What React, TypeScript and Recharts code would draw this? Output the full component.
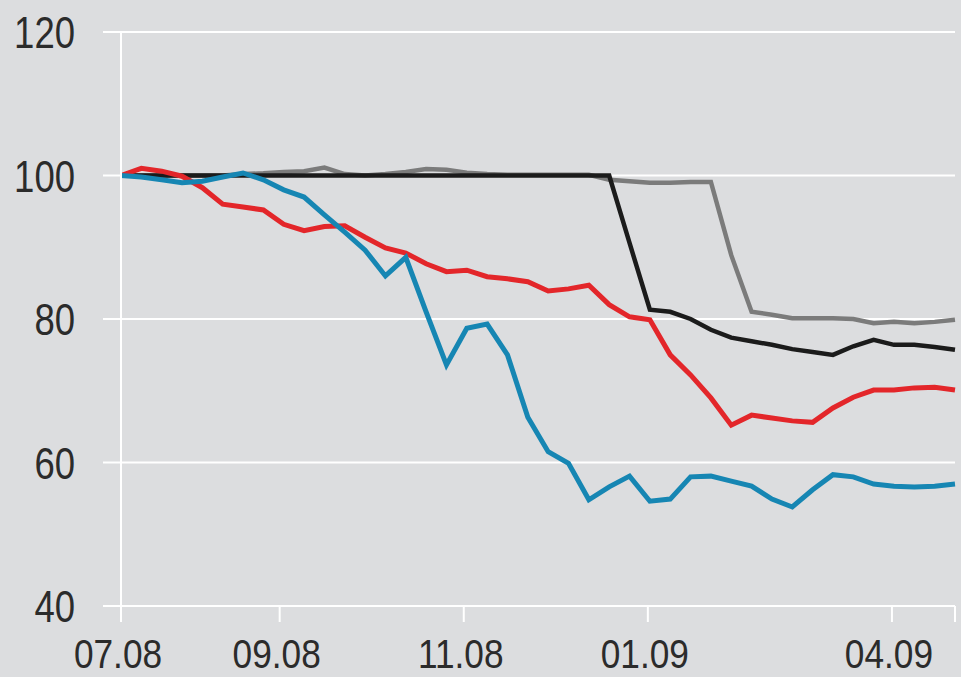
import React from "react";
import { LineChart, Line, XAxis, YAxis, CartesianGrid } from "recharts";

// weekly index values, start = 100
const blueSeries = [
  100, 99.8, 99.4, 99.0, 99.2, 99.8, 100.35, 99.4, 98.0, 97.0,
  94.5, 92.1, 89.6, 86.0, 88.6, 81.0, 73.6, 78.7, 79.3, 75.0,
  66.3, 61.5, 59.9, 54.8, 56.6, 58.1, 54.6, 54.9, 58.0, 58.1,
  57.4, 56.7, 54.9, 53.8, 56.2, 58.3, 58.0, 57.0, 56.7, 56.6,
  56.7, 57.0,
];
const redSeries = [
  100, 101.0, 100.6, 99.9, 98.3, 96.0, 95.6, 95.2, 93.2, 92.3,
  92.9, 93.0, 91.4, 89.9, 89.2, 87.7, 86.6, 86.8, 85.9, 85.6,
  85.2, 83.9, 84.2, 84.7, 82.0, 80.3, 79.9, 75.0, 72.2, 69.0,
  65.2, 66.6, 66.2, 65.8, 65.6, 67.6, 69.1, 70.1, 70.1, 70.4,
  70.5, 70.1,
];
const blackSeries = [
  100, 100, 100, 100, 100, 100, 100, 100, 100, 100,
  100, 100, 100, 100, 100, 100, 100, 100, 100, 100,
  100, 100, 100, 100, 100, 90.6, 81.3, 81.0, 80.0, 78.5,
  77.4, 76.9, 76.4, 75.8, 75.4, 75.0, 76.2, 77.1, 76.4, 76.4,
  76.1, 75.7,
];
const greySeries = [
  100, 100, 100, 100, 100, 100, 100.2, 100.3, 100.5, 100.6,
  101.1, 100.2, 100.0, 100.2, 100.5, 100.9, 100.8, 100.4, 100.2, 100.1,
  100.1, 100.1, 100.1, 100.1, 99.4, 99.2, 99.0, 99.0, 99.1, 99.1,
  88.9, 81.0, 80.6, 80.1, 80.1, 80.1, 80.0, 79.4, 79.6, 79.4,
  79.6, 79.9,
];

const tickLabels = ["07.08", "09.08", "11.08", "01.09", "04.09", ""];
const tickWeeks = [0, 7.8, 16.85, 25.9, 37.9, 41];
const yTicks = [40, 60, 80, 100, 120];

const data = blueSeries.map((v, i) => ({
  week: i,
  blue: v,
  red: redSeries[i],
  black: blackSeries[i],
  grey: greySeries[i],
}));

const font = "'Liberation Sans', Arial, sans-serif";

// narrow digits: squeeze a regular sans horizontally
function CondensedTick({ x, y, text, anchor, dy, size, sx }) {
  return (
    <text
      transform={`translate(${x},${y}) scale(${sx},1)`}
      textAnchor={anchor}
      dy={dy}
      fill="#2b2b2b"
      fontSize={size}
      fontFamily={font}
    >
      {text}
    </text>
  );
}

const XTick = (props) => {
  const label = tickLabels[tickWeeks.indexOf(props.payload.value)] ?? "";
  return <CondensedTick x={props.x - 3} y={props.y} text={label} anchor="middle" dy={27} size={41} sx={0.86} />;
};

const YTick = (props) => (
  <CondensedTick x={props.x} y={props.y} text={String(props.payload.value)} anchor="end" dy={16} size={44} sx={0.83} />
);

export default function App() {
  return (
    <div style={{ position: "absolute", left: 0, top: 0, width: 961, height: 677, background: "#dcdddf" }}>
      <LineChart width={961} height={677} data={data} margin={{ top: 32, right: 6, bottom: 0, left: 0 }}>
        <CartesianGrid vertical={false} stroke="#ffffff" strokeWidth={2} />
        <XAxis
          dataKey="week"
          type="number"
          domain={[0, 41]}
          ticks={tickWeeks}
          axisLine={false}
          tickLine={{ stroke: "#ffffff", strokeWidth: 2 }}
          tickSize={16}
          tickMargin={19}
          height={71}
          tick={XTick}
          interval={0}
        />
        <YAxis
          domain={[40, 120]}
          ticks={yTicks}
          width={121}
          axisLine={{ stroke: "#ffffff", strokeWidth: 2 }}
          tickLine={{ stroke: "#ffffff", strokeWidth: 2 }}
          tickSize={18}
          tickMargin={28}
          tick={YTick}
          interval={0}
        />
        <Line dataKey="grey" stroke="#7b7b7b" strokeWidth={4.5} dot={false} isAnimationActive={false} />
        <Line dataKey="black" stroke="#1b1b1b" strokeWidth={4.5} dot={false} isAnimationActive={false} />
        <Line dataKey="red" stroke="#e3262a" strokeWidth={5} dot={false} isAnimationActive={false} />
        <Line dataKey="blue" stroke="#1686b3" strokeWidth={5} dot={false} isAnimationActive={false} />
      </LineChart>
    </div>
  );
}
